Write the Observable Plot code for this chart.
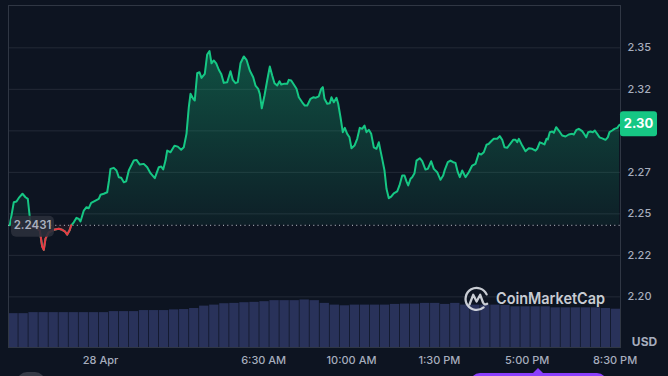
<!DOCTYPE html>
<html>
<head>
<meta charset="utf-8">
<script src="https://cdn.jsdelivr.net/npm/d3@7"></script>
<script src="https://cdn.jsdelivr.net/npm/@observablehq/plot@0.6"></script>
<style>
html,body{margin:0;padding:0;background:#0d1421;}
#wrap{position:relative;width:668px;height:376px;overflow:hidden;background:#0d1421;font-family:Inter,"Noto Sans",sans-serif;}
#wrap > svg{position:absolute;left:0;top:0;}
.pill-gray{position:absolute;left:17px;top:372px;width:28px;height:20px;border-radius:10px;background:#353a46;}
.pill-purple{position:absolute;left:470px;top:373px;width:137px;height:20px;border-radius:10px;background:#8a3ffc;}
.pill-tip{position:absolute;left:533px;top:368px;width:0;height:0;border-left:5px solid transparent;border-right:5px solid transparent;border-bottom:5px solid #8a3ffc;}
</style>
</head>
<body>
<div id="wrap"></div>
<script>
// ---- data (hours relative to 28 Apr 00:00) ----
const hours = [-3.614,-3.454,-3.347,-3.255,-3.108,-2.988,-2.896,-2.817,-2.789,-2.590,-2.418,-2.323,-2.259,-2.191,-2.060,-1.861,-1.661,-1.526,-1.422,-1.327,-1.235,-1.167,-1.064,-0.956,-0.865,-0.797,-0.665,-0.558,-0.466,-0.371,-0.199,-0.068,0.000,0.131,0.267,0.339,0.398,0.530,0.637,0.729,0.825,0.928,1.024,1.127,1.327,1.434,1.566,1.725,1.861,1.992,2.163,2.323,2.418,2.498,2.590,2.657,2.789,2.948,3.080,3.215,3.319,3.426,3.518,3.586,3.693,3.757,3.853,3.944,4.024,4.155,4.251,4.343,4.422,4.514,4.610,4.713,4.809,4.912,5.048,5.179,5.271,5.378,5.470,5.578,5.709,5.817,5.948,6.084,6.175,6.283,6.347,6.426,6.534,6.641,6.745,6.841,6.932,7.040,7.131,7.199,7.303,7.438,7.502,7.598,7.701,7.809,7.900,8.036,8.139,8.235,8.367,8.474,8.566,8.697,8.793,8.857,8.924,9.032,9.135,9.203,9.295,9.402,9.470,9.562,9.653,9.733,9.829,9.920,10.000,10.119,10.227,10.331,10.426,10.518,10.598,10.689,10.785,10.888,10.996,11.088,11.155,11.223,11.315,11.394,11.486,11.582,11.685,11.821,11.912,12.020,12.112,12.191,12.259,12.351,12.418,12.510,12.590,12.721,12.817,12.948,13.040,13.175,13.279,13.414,13.546,13.653,13.717,13.837,13.944,14.052,14.143,14.235,14.315,14.410,14.542,14.673,14.809,14.940,15.072,15.167,15.271,15.378,15.470,15.566,15.669,15.805,15.908,16.004,16.096,16.203,16.307,16.442,16.534,16.601,16.665,16.801,16.932,17.064,17.199,17.331,17.398,17.502,17.598,17.689,17.769,17.821,17.900,17.996,18.060,18.155,18.259,18.394,18.526,18.657,18.793,18.857,18.964,19.056,19.191,19.283,19.351,19.430,19.522,19.614,19.693,19.789,19.880,19.988,20.120,20.211,20.279,20.386,20.478,20.586,20.677];
const prices = [2.2432,2.2570,2.2574,2.2596,2.2621,2.2600,2.2590,2.2480,2.2431,2.2418,2.2399,2.2303,2.2283,2.2351,2.2389,2.2404,2.2410,2.2404,2.2395,2.2375,2.2399,2.2431,2.2449,2.2476,2.2470,2.2454,2.2520,2.2540,2.2534,2.2566,2.2580,2.2590,2.2615,2.2621,2.2630,2.2701,2.2771,2.2777,2.2761,2.2721,2.2717,2.2690,2.2696,2.2761,2.2821,2.2825,2.2797,2.2801,2.2781,2.2745,2.2715,2.2781,2.2785,2.2767,2.2821,2.2881,2.2871,2.2910,2.2905,2.2886,2.2901,2.2982,2.3142,2.3223,2.3193,2.3183,2.3347,2.3353,2.3319,2.3343,2.3460,2.3480,2.3407,2.3424,2.3407,2.3368,2.3343,2.3289,2.3293,2.3359,2.3307,2.3287,2.3293,2.3407,2.3448,2.3428,2.3363,2.3323,2.3273,2.3253,2.3223,2.3136,2.3213,2.3303,2.3387,2.3333,2.3287,2.3273,2.3299,2.3279,2.3283,2.3283,2.3307,2.3303,2.3279,2.3253,2.3202,2.3172,2.3152,2.3152,2.3193,2.3202,2.3199,2.3208,2.3253,2.3263,2.3193,2.3163,2.3166,2.3202,2.3172,2.3199,2.3163,2.3082,2.2992,2.3018,2.2982,2.2961,2.2895,2.2911,2.2952,2.3018,2.3012,2.3032,2.2992,2.3006,2.2982,2.2901,2.2892,2.2931,2.2881,2.2831,2.2761,2.2651,2.2594,2.2604,2.2624,2.2636,2.2671,2.2731,2.2731,2.2696,2.2671,2.2711,2.2721,2.2745,2.2821,2.2835,2.2817,2.2767,2.2771,2.2817,2.2771,2.2751,2.2705,2.2731,2.2765,2.2811,2.2821,2.2811,2.2807,2.2751,2.2721,2.2761,2.2721,2.2751,2.2791,2.2801,2.2865,2.2857,2.2871,2.2916,2.2922,2.2937,2.2952,2.2952,2.2968,2.2946,2.2901,2.2898,2.2918,2.2946,2.2946,2.2931,2.2952,2.2911,2.2877,2.2895,2.2892,2.2881,2.2892,2.2931,2.2925,2.2918,2.2952,2.2948,2.2992,2.2996,2.2988,2.3022,2.3002,2.2972,2.2966,2.2978,2.2982,2.2978,2.3006,2.3012,2.2998,2.2978,2.2961,2.2992,2.2996,2.2992,2.3002,2.2982,2.2961,2.2955,2.2946,2.2961,2.2992,2.3002,2.3012,2.3018,2.3036];
const openPrice = 2.2431;
const openLabel = "2.2431";
const lastLabel = "2.30";
const currency = "USD";

// volume, one bar per 24 minutes starting 27 Apr ~20:20 (millions)
const volStartHour = -3.665;
const volStepHours = 0.4;
const volumes = [9.9,9.9,10.2,10.2,10.2,10.2,10.2,10.2,10.2,10.2,10.5,10.5,10.5,10.8,10.8,10.8,11.0,11.1,11.4,12.1,12.4,12.8,12.9,13.1,13.2,13.4,13.7,13.7,13.7,13.9,13.7,12.9,12.4,12.2,12.4,12.4,12.4,12.4,12.6,12.7,12.7,12.9,12.9,12.6,12.9,12.4,12.4,12.4,12.4,12.3,11.9,11.9,11.9,11.9,11.6,11.6,11.6,11.6,11.6,11.4,11.2];

const yTicks = [2.20, 2.225, 2.25, 2.275, 2.30, 2.325, 2.35];
const yTickLabels = ["2.20","2.22","2.25","2.27","2.30","2.32","2.35"];
const xTicks = [0, 6.5, 10, 13.5, 17, 20.5];
const xTickLabels = ["28 Apr","6:30 AM","10:00 AM","1:30 PM","5:00 PM","8:30 PM"];

// ---- layout ----
const W = 668, H = 376;
const M = {marginLeft: 8, marginRight: 48, marginTop: 5, marginBottom: 29};
const xDomain = [-3.665, 20.717];
const yDomain = [2.1695, 2.3755];
const GREEN = "#16c784", RED = "#ea3943", LABEL = "#a6adbd";

const data = hours.map((h, i) => ({h, p: prices[i]}));
const lastPrice = prices[prices.length - 1];
const redData = data.filter((d, i) =>
  d.p < openPrice ||
  (i > 0 && data[i - 1].p < openPrice) ||
  (i < data.length - 1 && data[i + 1].p < openPrice));
// axis labels hidden behind the last-price badge are not drawn
const tickIdx = yTicks.map((t, i) => i).filter(i => Math.abs(yTicks[i] - lastPrice) > 0.008);

const wrap = document.getElementById("wrap");

// volume (own scale), drawn underneath
const vol = Plot.plot({
  width: W, height: H, ...M,
  style: {background: "transparent"},
  x: {domain: xDomain, axis: null},
  y: {domain: [0, 100], axis: null},
  marks: [
    Plot.rectY(volumes, {
      x1: (d, i) => volStartHour + i * volStepHours,
      x2: (d, i) => volStartHour + (i + 1) * volStepHours,
      y: d => d, fill: "#29325a", insetLeft: 0.35, insetRight: 0.35, clip: true
    })
  ]
});
wrap.appendChild(vol);

// price chart
const chart = Plot.plot({
  width: W, height: H, ...M,
  style: {background: "transparent", fontFamily: "Inter, 'Noto Sans', sans-serif", fontSize: "11px", overflow: "visible"},
  x: {domain: xDomain, axis: null},
  y: {domain: yDomain, axis: null},
  marks: [
    Plot.ruleY(yTicks, {stroke: "#232a37", strokeWidth: 1}),
    Plot.frame({stroke: "#303744"}),
    Plot.areaY(data, {x: "h", y1: () => openPrice, y2: d => Math.max(d.p, openPrice), fill: "url(#gfill)"}),
    Plot.areaY(data, {x: "h", y1: () => openPrice, y2: d => Math.min(d.p, openPrice), fill: RED, fillOpacity: 0.07}),
    Plot.ruleY([openPrice], {stroke: "#c4c8d0", strokeWidth: 1, strokeDasharray: "1,3.3"}),
    Plot.line(data, {x: "h", y: "p", stroke: GREEN, strokeWidth: 2, strokeLinejoin: "round"}),
    Plot.line(redData, {x: "h", y: "p", stroke: RED, strokeWidth: 2, strokeLinejoin: "round"}),
    Plot.text(tickIdx, {x: () => xDomain[1], y: i => yTicks[i], text: i => yTickLabels[i], textAnchor: "start", dx: 7, fill: LABEL, fontWeight: 500}),
    Plot.text(xTicks, {x: d => d, frameAnchor: "bottom", dy: 16, text: (d, i) => xTickLabels[i], fill: LABEL, fontWeight: 500}),
    Plot.text([currency], {frameAnchor: "bottom-right", dx: 24, dy: -2, text: d => d, fill: LABEL, fontWeight: 700, fontSize: 12, textAnchor: "middle"})
  ]
});
wrap.appendChild(chart);

// helpers from the chart's own scales
function scaleFn(name) {
  const s = chart.scale(name);
  if (s && typeof s.apply === "function") return v => s.apply(v);
  return d3.scaleLinear(s.domain, s.range);
}
const sx = scaleFn("x"), sy = scaleFn("y");
const svg = d3.select(chart);

// gradient for the area
const defs = svg.insert("defs", ":first-child");
const grad = defs.append("linearGradient").attr("id", "gfill").attr("x1", 0).attr("y1", 0).attr("x2", 0).attr("y2", 1);
grad.append("stop").attr("offset", "0%").attr("stop-color", GREEN).attr("stop-opacity", 0.34);
grad.append("stop").attr("offset", "100%").attr("stop-color", GREEN).attr("stop-opacity", 0.06);

// open price label, over the line
const lab = svg.append("g");
const oy = sy(openPrice), ox = sx(xDomain[0]);
lab.append("rect").attr("x", ox + 3).attr("y", oy - 9).attr("width", 43).attr("height", 21)
  .attr("rx", 5).attr("fill", "#2a2f3b").attr("fill-opacity", 0.9);
lab.append("text").attr("x", ox + 24.5).attr("y", oy + 1.5).attr("text-anchor", "middle")
  .attr("dominant-baseline", "middle").attr("fill", "#aab0bf").attr("font-size", 11.5)
  .attr("font-weight", 600).text(openLabel);

// last price badge
const ly = sy(lastPrice), lx = sx(xDomain[1]);
const badge = svg.append("g");
badge.append("rect").attr("x", lx).attr("y", ly - 13).attr("width", 37).attr("height", 25)
  .attr("rx", 3).attr("fill", GREEN);
badge.append("text").attr("x", lx + 18.5).attr("y", ly).attr("text-anchor", "middle")
  .attr("dominant-baseline", "middle").attr("fill", "#ffffff").attr("font-size", 13)
  .attr("font-weight", 700).text(lastLabel);

// watermark
const wm = d3.select(wrap).append("svg").attr("width", W).attr("height", H).style("pointer-events", "none");
const wg = wm.append("g").attr("fill", "none").attr("stroke", "#e3e6ec").attr("stroke-opacity", 0.88)
  .attr("stroke-width", 2.3).attr("stroke-linecap", "round").attr("stroke-linejoin", "round");
wg.append("path").attr("d", "M486.6,294.4 A11,11 0 1 0 483.6,307.4");
wg.append("path").attr("d", "M469.5,304.5 L473.2,294.8 L476.6,301.5 L480.2,294.8 L483,302.5 Q484.5,305.5 487.2,303.8");
wm.append("text").attr("x", 496).attr("y", 300).attr("dominant-baseline", "middle")
  .attr("fill", "#e3e6ec").attr("fill-opacity", 0.88).attr("font-size", 16).attr("font-weight", 600)
  .attr("font-family", "Inter, 'Noto Sans', sans-serif").attr("textLength", 109)
  .attr("lengthAdjust", "spacingAndGlyphs").text("CoinMarketCap");

// cut-off controls at bottom edge
const g1 = document.createElement("div"); g1.className = "pill-gray"; wrap.appendChild(g1);
const p1 = document.createElement("div"); p1.className = "pill-purple"; wrap.appendChild(p1);
const p2 = document.createElement("div"); p2.className = "pill-tip"; wrap.appendChild(p2);
</script>
</body>
</html>
